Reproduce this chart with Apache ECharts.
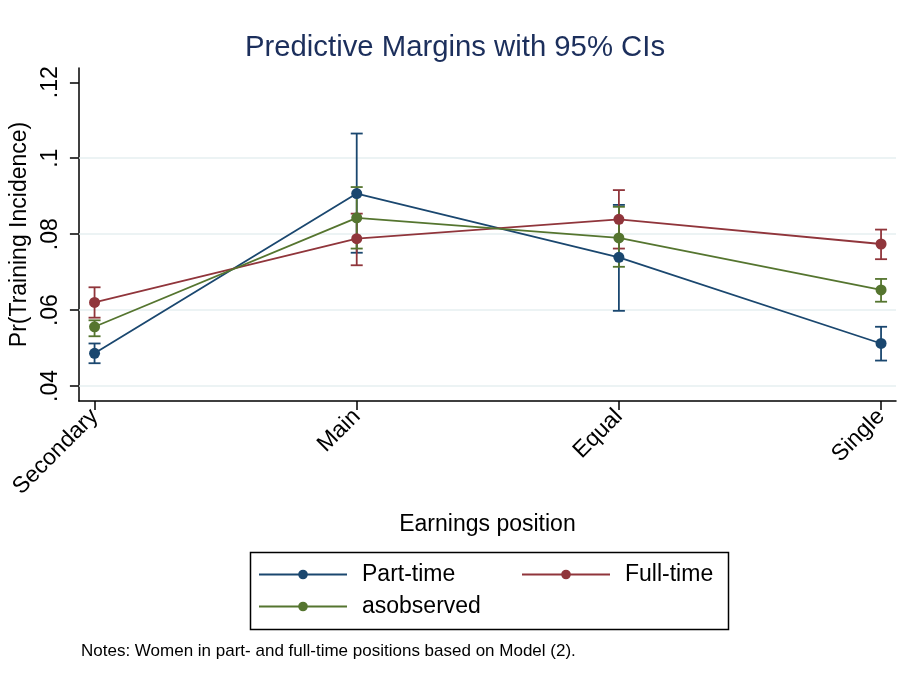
<!DOCTYPE html>
<html>
<head>
<meta charset="utf-8">
<script src="https://cdn.jsdelivr.net/npm/echarts@6/dist/echarts.min.js"></script>
<style>html,body{margin:0;padding:0;background:#fff;}#main{width:910px;height:690px;}</style>
</head>
<body>
<div id="main"></div>
<script>
const categories = ['Secondary', 'Main', 'Equal', 'Single'];
const yTicks = [0.04, 0.06, 0.08, 0.1, 0.12];
const gridValues = [0.04, 0.06, 0.08, 0.1];

const partTime   = [0.0486, 0.0907, 0.0739, 0.0512];
const partTimeLo = [0.0460, 0.0751, 0.0598, 0.0467];
const partTimeHi = [0.0512, 0.1065, 0.0877, 0.0556];

const fullTime   = [0.0620, 0.0788, 0.0839, 0.0774];
const fullTimeLo = [0.0580, 0.0718, 0.0762, 0.0734];
const fullTimeHi = [0.0660, 0.0854, 0.0916, 0.0812];

const asObserved   = [0.0556, 0.0843, 0.0790, 0.0653];
const asObservedLo = [0.0531, 0.0762, 0.0714, 0.0622];
const asObservedHi = [0.0573, 0.0924, 0.0872, 0.0682];

const FONT = 'Liberation Sans, Arial, sans-serif';
const colors = { pt: '#1a476f', ft: '#90353b', ao: '#55752f' };

function ciSeries(name, lo, hi, color) {
  return {
    name: name, type: 'custom', z: 2,
    itemStyle: { color: color },
    data: lo.map((v, i) => [i, v, hi[i]]),
    encode: { x: 0, y: [1, 2] },
    renderItem: function (params, api) {
      const x = api.value(0);
      const p1 = api.coord([x, api.value(1)]);
      const p2 = api.coord([x, api.value(2)]);
      const hw = 6;
      const st = { stroke: color, lineWidth: 1.8 };
      return {
        type: 'group',
        children: [
          { type: 'line', shape: { x1: p1[0], y1: p1[1], x2: p2[0], y2: p2[1] }, style: st },
          { type: 'line', shape: { x1: p1[0] - hw, y1: p1[1], x2: p1[0] + hw, y2: p1[1] }, style: st },
          { type: 'line', shape: { x1: p2[0] - hw, y1: p2[1], x2: p2[0] + hw, y2: p2[1] }, style: st }
        ]
      };
    }
  };
}

function lineSeries(name, vals, color, extra) {
  return Object.assign({
    name: name, type: 'line', z: 3,
    data: vals.map((v, i) => [i, v]),
    symbol: 'circle', symbolSize: 11,
    lineStyle: { color: color, width: 1.8 },
    itemStyle: { color: color },
    emphasis: { disabled: true }
  }, extra || {});
}

const legendCommon = {
  orient: 'vertical',
  itemWidth: 88, itemHeight: 12, itemGap: 9,
  textStyle: { fontFamily: FONT, fontSize: 23, color: '#000', padding: [0, 0, 0, 10] }
};

const chart = echarts.init(document.getElementById('main'));
chart.setOption({
  animation: false,
  backgroundColor: '#ffffff',
  color: [colors.pt, colors.ft, colors.ao],
  textStyle: { fontFamily: FONT },
  title: [
    { text: 'Predictive Margins with 95% CIs', left: 'center', top: 28,
      textStyle: { fontFamily: FONT, fontSize: 29.3, fontWeight: 'normal', color: '#1c2f5c' } },
    { text: 'Notes: Women in part- and full-time positions based on Model (2).', left: 76, top: 638,
      textStyle: { fontFamily: FONT, fontSize: 17, fontWeight: 'normal', color: '#000' } }
  ],
  grid: { left: 77, right: 14, top: 68, bottom: 289, containLabel: false },
  xAxis: {
    type: 'value', min: -0.0597, max: 3.057,
    name: 'Earnings position', nameLocation: 'middle', nameGap: 112,
    nameTextStyle: { fontFamily: FONT, fontSize: 23, color: '#000' },
    axisLine: { show: true, onZero: false, lineStyle: { color: '#000', width: 1.5 } },
    axisTick: { show: true, length: 9, customValues: [0, 1, 2, 3], lineStyle: { color: '#000', width: 1.5 } },
    axisLabel: { customValues: [0, 1, 2, 3], rotate: 45, margin: 12, fontFamily: FONT, fontSize: 23, color: '#000',
      formatter: v => categories[Math.round(v)] },
    splitLine: { show: false }
  },
  yAxis: {
    type: 'value', min: 0.03605, max: 0.12376,
    name: 'Pr(Training Incidence)', nameLocation: 'middle', nameGap: 40,
    nameTextStyle: { fontFamily: FONT, fontSize: 23, color: '#000' },
    axisLine: { show: true, onZero: false, lineStyle: { color: '#000', width: 1.5 } },
    axisTick: { show: true, length: 9, customValues: yTicks, lineStyle: { color: '#000', width: 1.5 } },
    axisLabel: { customValues: yTicks, rotate: 90, margin: 17, fontFamily: FONT, fontSize: 23, color: '#000',
      formatter: v => String(Math.round(v * 100) / 100).replace(/^0/, '') },
    splitLine: { show: false }
  },
  legend: [
    Object.assign({ left: 253, top: 558, data: ['Part-time', 'asobserved'] }, legendCommon),
    Object.assign({ left: 516, top: 558, data: ['Full-time'] }, legendCommon)
  ],
  graphic: [
    { type: 'rect', left: 248, top: 550, shape: { width: 478, height: 77 },
      style: { fill: 'none', stroke: '#000', lineWidth: 1.5 }, silent: true }
  ],
  series: [
    lineSeries('Part-time', partTime, colors.pt, {
      markLine: {
        silent: true, symbol: 'none', z: 1, label: { show: false },
        lineStyle: { color: '#e6eff1', width: 1.5, type: 'solid' },
        data: gridValues.map(v => ({ yAxis: v }))
      }
    }),
    lineSeries('Full-time', fullTime, colors.ft),
    lineSeries('asobserved', asObserved, colors.ao),
    ciSeries('Part-time', partTimeLo, partTimeHi, colors.pt),
    ciSeries('Full-time', fullTimeLo, fullTimeHi, colors.ft),
    ciSeries('asobserved', asObservedLo, asObservedHi, colors.ao)
  ]
});
</script>
</body>
</html>
